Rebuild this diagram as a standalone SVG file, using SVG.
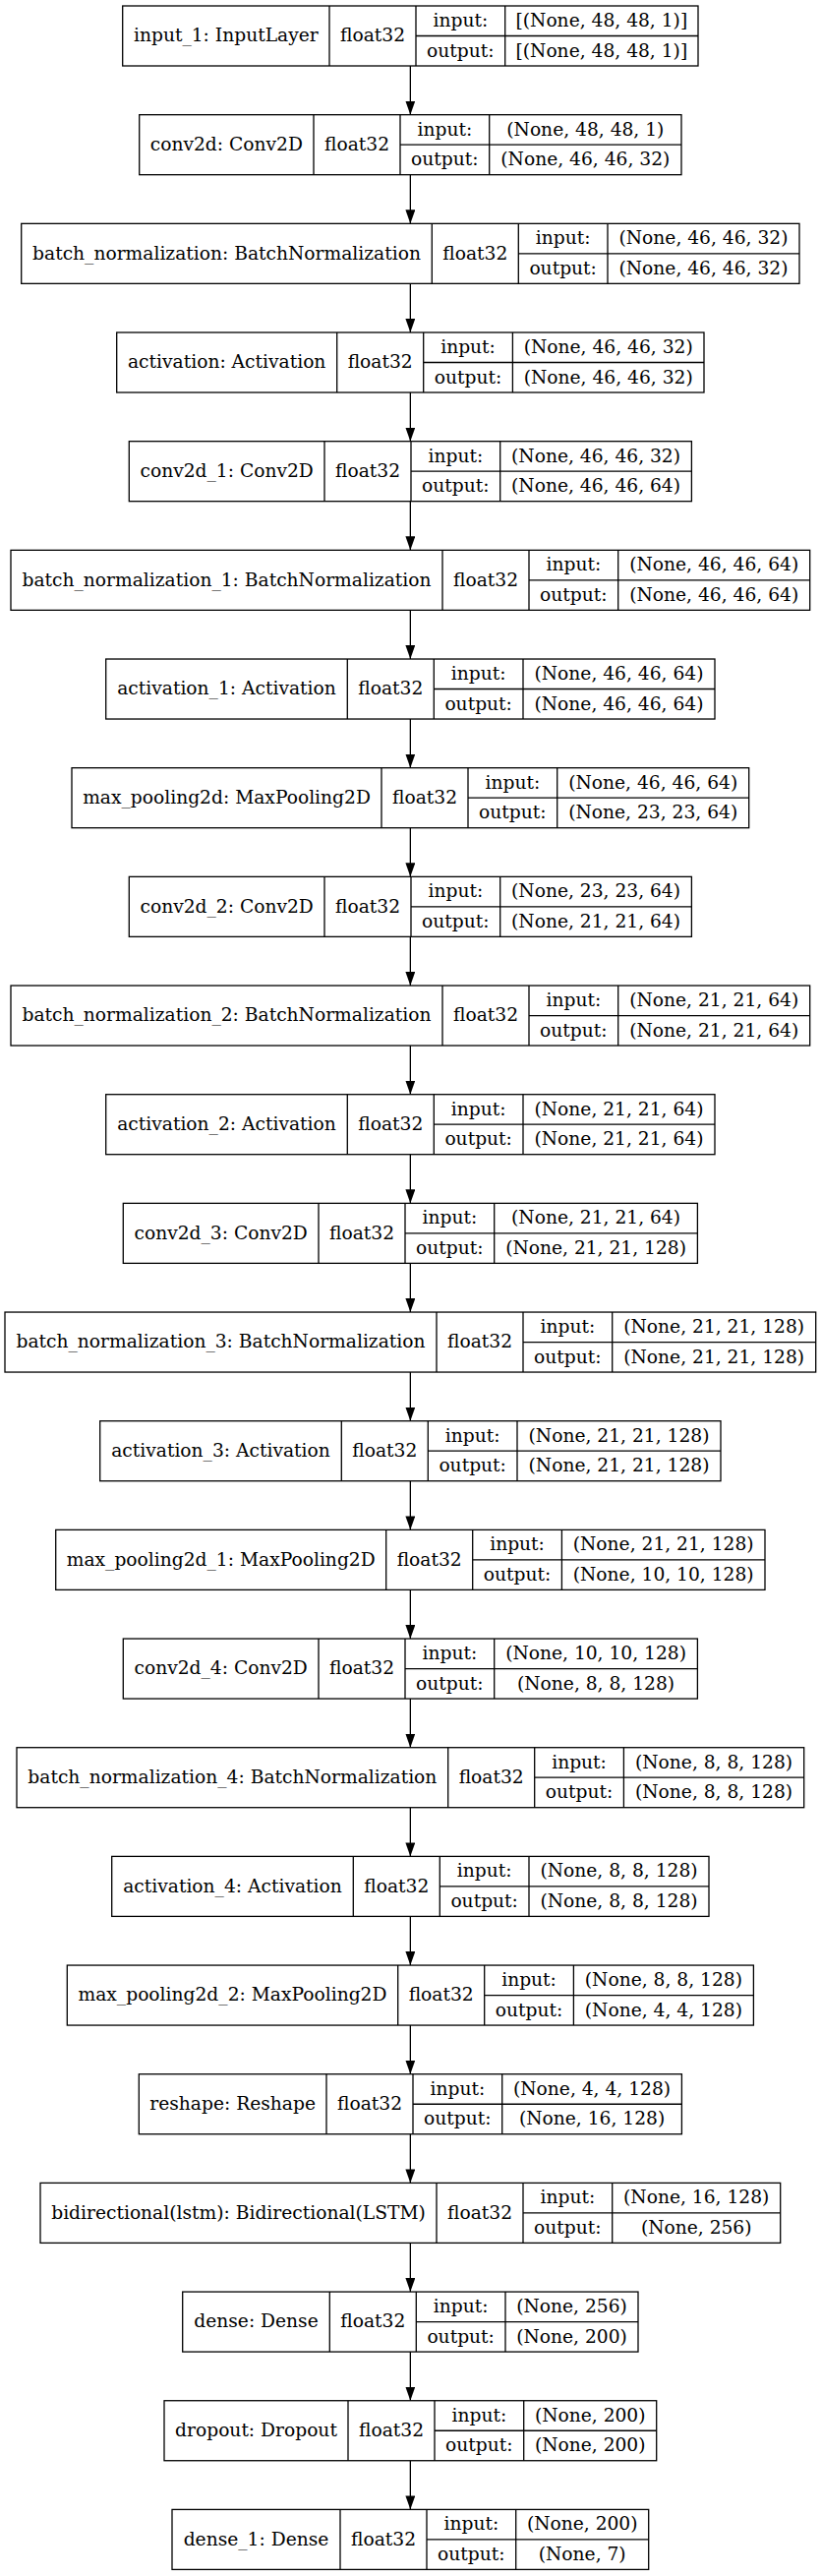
<svg xmlns="http://www.w3.org/2000/svg" width="835" height="2619" viewBox="0 0 835 2619">
<style>
.bg{fill:#fff}
.nd rect{fill:#fff;stroke:#000;stroke-width:1.3}
.nd path{fill:none;stroke:#000;stroke-width:1.3}
.nd text{font-family:"DejaVu Serif","Liberation Serif",serif;font-size:18.67px;text-anchor:middle;fill:#000}
.ed line{stroke:#000;stroke-width:1.3}
</style>
<defs>
<marker id="ah" markerUnits="userSpaceOnUse" markerWidth="14" markerHeight="10" viewBox="0 0 13.3 9.4" refX="13.3" refY="4.7" orient="auto">
<path d="M0,0 L13.3,4.7 L0,9.4 z" fill="#000"/>
</marker>
</defs>
<rect class="bg" x="0" y="0" width="835" height="2619"/>
<g id="edges" class="ed">
<line x1="417.35" y1="67" x2="417.35" y2="116.67" marker-end="url(#ah)"/>
<line x1="417.35" y1="177.67" x2="417.35" y2="227.34" marker-end="url(#ah)"/>
<line x1="417.35" y1="288.34" x2="417.35" y2="338.01" marker-end="url(#ah)"/>
<line x1="417.35" y1="399.01" x2="417.35" y2="448.68" marker-end="url(#ah)"/>
<line x1="417.35" y1="509.68" x2="417.35" y2="559.35" marker-end="url(#ah)"/>
<line x1="417.35" y1="620.35" x2="417.35" y2="670.02" marker-end="url(#ah)"/>
<line x1="417.35" y1="731.02" x2="417.35" y2="780.69" marker-end="url(#ah)"/>
<line x1="417.35" y1="841.69" x2="417.35" y2="891.36" marker-end="url(#ah)"/>
<line x1="417.35" y1="952.36" x2="417.35" y2="1002.03" marker-end="url(#ah)"/>
<line x1="417.35" y1="1063.03" x2="417.35" y2="1112.7" marker-end="url(#ah)"/>
<line x1="417.35" y1="1173.7" x2="417.35" y2="1223.37" marker-end="url(#ah)"/>
<line x1="417.35" y1="1284.37" x2="417.35" y2="1334.04" marker-end="url(#ah)"/>
<line x1="417.35" y1="1395.04" x2="417.35" y2="1444.71" marker-end="url(#ah)"/>
<line x1="417.35" y1="1505.71" x2="417.35" y2="1555.38" marker-end="url(#ah)"/>
<line x1="417.35" y1="1616.38" x2="417.35" y2="1666.05" marker-end="url(#ah)"/>
<line x1="417.35" y1="1727.05" x2="417.35" y2="1776.72" marker-end="url(#ah)"/>
<line x1="417.35" y1="1837.72" x2="417.35" y2="1887.39" marker-end="url(#ah)"/>
<line x1="417.35" y1="1948.39" x2="417.35" y2="1998.06" marker-end="url(#ah)"/>
<line x1="417.35" y1="2059.06" x2="417.35" y2="2108.73" marker-end="url(#ah)"/>
<line x1="417.35" y1="2169.73" x2="417.35" y2="2219.4" marker-end="url(#ah)"/>
<line x1="417.35" y1="2280.4" x2="417.35" y2="2330.07" marker-end="url(#ah)"/>
<line x1="417.35" y1="2391.07" x2="417.35" y2="2440.74" marker-end="url(#ah)"/>
<line x1="417.35" y1="2501.74" x2="417.35" y2="2551.41" marker-end="url(#ah)"/>
</g>

<g id="input_1" class="nd" transform="translate(0,6)">
<rect x="124.7" y="0" width="585.3" height="61"/>
<path d="M335 0V61M423 0V61M513.7 0V61M423 30.5H710"/>
<text x="229.85" y="36.3">input_1: InputLayer</text>
<text x="379" y="36.3">float32</text>
<text x="468.35" y="21">input:</text>
<text x="468.35" y="51.5">output:</text>
<text x="611.85" y="21">[(None, 48, 48, 1)]</text>
<text x="611.85" y="51.5">[(None, 48, 48, 1)]</text>
</g>

<g id="conv2d" class="nd" transform="translate(0,116.67)">
<rect x="141.7" y="0" width="551.3" height="61"/>
<path d="M319 0V61M407 0V61M497.7 0V61M407 30.5H693"/>
<text x="230.35" y="36.3">conv2d: Conv2D</text>
<text x="363" y="36.3">float32</text>
<text x="452.35" y="21">input:</text>
<text x="452.35" y="51.5">output:</text>
<text x="595.35" y="21">(None, 48, 48, 1)</text>
<text x="595.35" y="51.5">(None, 46, 46, 32)</text>
</g>

<g id="batch_normalization" class="nd" transform="translate(0,227.34)">
<rect x="21.7" y="0" width="791.3" height="61"/>
<path d="M439.3 0V61M527.3 0V61M618 0V61M527.3 30.5H813"/>
<text x="230.5" y="36.3">batch_normalization: BatchNormalization</text>
<text x="483.3" y="36.3">float32</text>
<text x="572.65" y="21">input:</text>
<text x="572.65" y="51.5">output:</text>
<text x="715.5" y="21">(None, 46, 46, 32)</text>
<text x="715.5" y="51.5">(None, 46, 46, 32)</text>
</g>

<g id="activation" class="nd" transform="translate(0,338.01)">
<rect x="118.7" y="0" width="597.3" height="61"/>
<path d="M342.7 0V61M430.7 0V61M521.4 0V61M430.7 30.5H716"/>
<text x="230.7" y="36.3">activation: Activation</text>
<text x="386.7" y="36.3">float32</text>
<text x="476.05" y="21">input:</text>
<text x="476.05" y="51.5">output:</text>
<text x="618.7" y="21">(None, 46, 46, 32)</text>
<text x="618.7" y="51.5">(None, 46, 46, 32)</text>
</g>

<g id="conv2d_1" class="nd" transform="translate(0,448.68)">
<rect x="131.3" y="0" width="572.1" height="61"/>
<path d="M330 0V61M418 0V61M508.7 0V61M418 30.5H703.4"/>
<text x="230.65" y="36.3">conv2d_1: Conv2D</text>
<text x="374" y="36.3">float32</text>
<text x="463.35" y="21">input:</text>
<text x="463.35" y="51.5">output:</text>
<text x="606.05" y="21">(None, 46, 46, 32)</text>
<text x="606.05" y="51.5">(None, 46, 46, 64)</text>
</g>

<g id="batch_normalization_1" class="nd" transform="translate(0,559.35)">
<rect x="11" y="0" width="812.7" height="61"/>
<path d="M450 0V61M538 0V61M628.7 0V61M538 30.5H823.7"/>
<text x="230.5" y="36.3">batch_normalization_1: BatchNormalization</text>
<text x="494" y="36.3">float32</text>
<text x="583.35" y="21">input:</text>
<text x="583.35" y="51.5">output:</text>
<text x="726.2" y="21">(None, 46, 46, 64)</text>
<text x="726.2" y="51.5">(None, 46, 46, 64)</text>
</g>

<g id="activation_1" class="nd" transform="translate(0,670.02)">
<rect x="107.7" y="0" width="619.3" height="61"/>
<path d="M353.3 0V61M441.3 0V61M532 0V61M441.3 30.5H727"/>
<text x="230.5" y="36.3">activation_1: Activation</text>
<text x="397.3" y="36.3">float32</text>
<text x="486.65" y="21">input:</text>
<text x="486.65" y="51.5">output:</text>
<text x="629.5" y="21">(None, 46, 46, 64)</text>
<text x="629.5" y="51.5">(None, 46, 46, 64)</text>
</g>

<g id="max_pooling2d" class="nd" transform="translate(0,780.69)">
<rect x="73" y="0" width="688.7" height="61"/>
<path d="M388 0V61M476 0V61M566.7 0V61M476 30.5H761.7"/>
<text x="230.5" y="36.3">max_pooling2d: MaxPooling2D</text>
<text x="432" y="36.3">float32</text>
<text x="521.35" y="21">input:</text>
<text x="521.35" y="51.5">output:</text>
<text x="664.2" y="21">(None, 46, 46, 64)</text>
<text x="664.2" y="51.5">(None, 23, 23, 64)</text>
</g>

<g id="conv2d_2" class="nd" transform="translate(0,891.36)">
<rect x="131.3" y="0" width="572.1" height="61"/>
<path d="M330 0V61M418 0V61M508.7 0V61M418 30.5H703.4"/>
<text x="230.65" y="36.3">conv2d_2: Conv2D</text>
<text x="374" y="36.3">float32</text>
<text x="463.35" y="21">input:</text>
<text x="463.35" y="51.5">output:</text>
<text x="606.05" y="21">(None, 23, 23, 64)</text>
<text x="606.05" y="51.5">(None, 21, 21, 64)</text>
</g>

<g id="batch_normalization_2" class="nd" transform="translate(0,1002.03)">
<rect x="11" y="0" width="812.7" height="61"/>
<path d="M450 0V61M538 0V61M628.7 0V61M538 30.5H823.7"/>
<text x="230.5" y="36.3">batch_normalization_2: BatchNormalization</text>
<text x="494" y="36.3">float32</text>
<text x="583.35" y="21">input:</text>
<text x="583.35" y="51.5">output:</text>
<text x="726.2" y="21">(None, 21, 21, 64)</text>
<text x="726.2" y="51.5">(None, 21, 21, 64)</text>
</g>

<g id="activation_2" class="nd" transform="translate(0,1112.7)">
<rect x="107.7" y="0" width="619.3" height="61"/>
<path d="M353.3 0V61M441.3 0V61M532 0V61M441.3 30.5H727"/>
<text x="230.5" y="36.3">activation_2: Activation</text>
<text x="397.3" y="36.3">float32</text>
<text x="486.65" y="21">input:</text>
<text x="486.65" y="51.5">output:</text>
<text x="629.5" y="21">(None, 21, 21, 64)</text>
<text x="629.5" y="51.5">(None, 21, 21, 64)</text>
</g>

<g id="conv2d_3" class="nd" transform="translate(0,1223.37)">
<rect x="125.3" y="0" width="584.1" height="61"/>
<path d="M324 0V61M412 0V61M502.7 0V61M412 30.5H709.4"/>
<text x="224.65" y="36.3">conv2d_3: Conv2D</text>
<text x="368" y="36.3">float32</text>
<text x="457.35" y="21">input:</text>
<text x="457.35" y="51.5">output:</text>
<text x="606.05" y="21">(None, 21, 21, 64)</text>
<text x="606.05" y="51.5">(None, 21, 21, 128)</text>
</g>

<g id="batch_normalization_3" class="nd" transform="translate(0,1334.04)">
<rect x="5" y="0" width="824.7" height="61"/>
<path d="M444 0V61M532 0V61M622.7 0V61M532 30.5H829.7"/>
<text x="224.5" y="36.3">batch_normalization_3: BatchNormalization</text>
<text x="488" y="36.3">float32</text>
<text x="577.35" y="21">input:</text>
<text x="577.35" y="51.5">output:</text>
<text x="726.2" y="21">(None, 21, 21, 128)</text>
<text x="726.2" y="51.5">(None, 21, 21, 128)</text>
</g>

<g id="activation_3" class="nd" transform="translate(0,1444.71)">
<rect x="101.7" y="0" width="631.3" height="61"/>
<path d="M347.3 0V61M435.3 0V61M526 0V61M435.3 30.5H733"/>
<text x="224.5" y="36.3">activation_3: Activation</text>
<text x="391.3" y="36.3">float32</text>
<text x="480.65" y="21">input:</text>
<text x="480.65" y="51.5">output:</text>
<text x="629.5" y="21">(None, 21, 21, 128)</text>
<text x="629.5" y="51.5">(None, 21, 21, 128)</text>
</g>

<g id="max_pooling2d_1" class="nd" transform="translate(0,1555.38)">
<rect x="56.7" y="0" width="721.3" height="61"/>
<path d="M392.7 0V61M480.7 0V61M571.4 0V61M480.7 30.5H778"/>
<text x="224.7" y="36.3">max_pooling2d_1: MaxPooling2D</text>
<text x="436.7" y="36.3">float32</text>
<text x="526.05" y="21">input:</text>
<text x="526.05" y="51.5">output:</text>
<text x="674.7" y="21">(None, 21, 21, 128)</text>
<text x="674.7" y="51.5">(None, 10, 10, 128)</text>
</g>

<g id="conv2d_4" class="nd" transform="translate(0,1666.05)">
<rect x="125.3" y="0" width="584.1" height="61"/>
<path d="M324 0V61M412 0V61M502.7 0V61M412 30.5H709.4"/>
<text x="224.65" y="36.3">conv2d_4: Conv2D</text>
<text x="368" y="36.3">float32</text>
<text x="457.35" y="21">input:</text>
<text x="457.35" y="51.5">output:</text>
<text x="606.05" y="21">(None, 10, 10, 128)</text>
<text x="606.05" y="51.5">(None, 8, 8, 128)</text>
</g>

<g id="batch_normalization_4" class="nd" transform="translate(0,1776.72)">
<rect x="17" y="0" width="800.7" height="61"/>
<path d="M455.7 0V61M543.7 0V61M634.4 0V61M543.7 30.5H817.7"/>
<text x="236.35" y="36.3">batch_normalization_4: BatchNormalization</text>
<text x="499.7" y="36.3">float32</text>
<text x="589.05" y="21">input:</text>
<text x="589.05" y="51.5">output:</text>
<text x="726.05" y="21">(None, 8, 8, 128)</text>
<text x="726.05" y="51.5">(None, 8, 8, 128)</text>
</g>

<g id="activation_4" class="nd" transform="translate(0,1887.39)">
<rect x="113.7" y="0" width="607.3" height="61"/>
<path d="M359.3 0V61M447.3 0V61M538 0V61M447.3 30.5H721"/>
<text x="236.5" y="36.3">activation_4: Activation</text>
<text x="403.3" y="36.3">float32</text>
<text x="492.65" y="21">input:</text>
<text x="492.65" y="51.5">output:</text>
<text x="629.5" y="21">(None, 8, 8, 128)</text>
<text x="629.5" y="51.5">(None, 8, 8, 128)</text>
</g>

<g id="max_pooling2d_2" class="nd" transform="translate(0,1998.06)">
<rect x="68.3" y="0" width="698.1" height="61"/>
<path d="M404.7 0V61M492.7 0V61M583.4 0V61M492.7 30.5H766.4"/>
<text x="236.5" y="36.3">max_pooling2d_2: MaxPooling2D</text>
<text x="448.7" y="36.3">float32</text>
<text x="538.05" y="21">input:</text>
<text x="538.05" y="51.5">output:</text>
<text x="674.9" y="21">(None, 8, 8, 128)</text>
<text x="674.9" y="51.5">(None, 4, 4, 128)</text>
</g>

<g id="reshape" class="nd" transform="translate(0,2108.73)">
<rect x="141.3" y="0" width="552.1" height="61"/>
<path d="M332 0V61M420 0V61M510.7 0V61M420 30.5H693.4"/>
<text x="236.65" y="36.3">reshape: Reshape</text>
<text x="376" y="36.3">float32</text>
<text x="465.35" y="21">input:</text>
<text x="465.35" y="51.5">output:</text>
<text x="602.05" y="21">(None, 4, 4, 128)</text>
<text x="602.05" y="51.5">(None, 16, 128)</text>
</g>

<g id="bidirectional" class="nd" transform="translate(0,2219.4)">
<rect x="41" y="0" width="752.7" height="61"/>
<path d="M444 0V61M532 0V61M622.7 0V61M532 30.5H793.7"/>
<text x="242.5" y="36.3">bidirectional(lstm): Bidirectional(LSTM)</text>
<text x="488" y="36.3">float32</text>
<text x="577.35" y="21">input:</text>
<text x="577.35" y="51.5">output:</text>
<text x="708.2" y="21">(None, 16, 128)</text>
<text x="708.2" y="51.5">(None, 256)</text>
</g>

<g id="dense" class="nd" transform="translate(0,2330.07)">
<rect x="185.7" y="0" width="463.3" height="61"/>
<path d="M335.3 0V61M423.3 0V61M514 0V61M423.3 30.5H649"/>
<text x="260.5" y="36.3">dense: Dense</text>
<text x="379.3" y="36.3">float32</text>
<text x="468.65" y="21">input:</text>
<text x="468.65" y="51.5">output:</text>
<text x="581.5" y="21">(None, 256)</text>
<text x="581.5" y="51.5">(None, 200)</text>
</g>

<g id="dropout" class="nd" transform="translate(0,2440.74)">
<rect x="167" y="0" width="500.7" height="61"/>
<path d="M354 0V61M442 0V61M532.7 0V61M442 30.5H667.7"/>
<text x="260.5" y="36.3">dropout: Dropout</text>
<text x="398" y="36.3">float32</text>
<text x="487.35" y="21">input:</text>
<text x="487.35" y="51.5">output:</text>
<text x="600.2" y="21">(None, 200)</text>
<text x="600.2" y="51.5">(None, 200)</text>
</g>

<g id="dense_1" class="nd" transform="translate(0,2551.41)">
<rect x="175" y="0" width="484.7" height="61"/>
<path d="M346 0V61M434 0V61M524.7 0V61M434 30.5H659.7"/>
<text x="260.5" y="36.3">dense_1: Dense</text>
<text x="390" y="36.3">float32</text>
<text x="479.35" y="21">input:</text>
<text x="479.35" y="51.5">output:</text>
<text x="592.2" y="21">(None, 200)</text>
<text x="592.2" y="51.5">(None, 7)</text>
</g>
</svg>
